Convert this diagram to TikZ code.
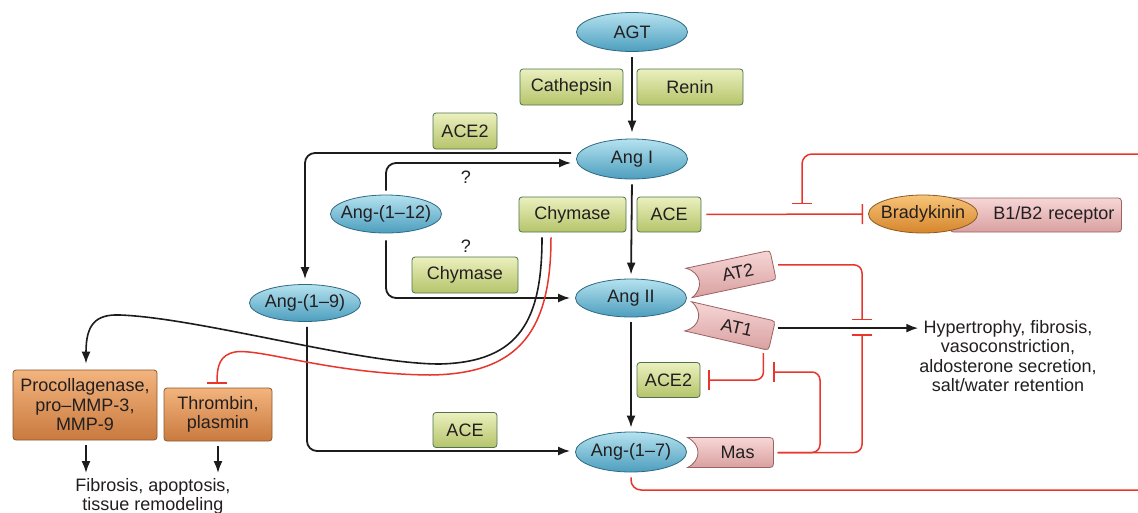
\documentclass[tikz,border=0pt]{standalone}
\usepackage{fontspec}
\setmainfont{Liberation Sans}
\usetikzlibrary{shapes.geometric,arrows.meta,calc}
\definecolor{txt}{HTML}{231F20}
\definecolor{ellT}{HTML}{B5E2EF}
\definecolor{ellB}{HTML}{4C9EBE}
\definecolor{ellD}{HTML}{2E6A82}
\definecolor{gT}{HTML}{EBF0BE}
\definecolor{gB}{HTML}{B5C46A}
\definecolor{gD}{HTML}{4F7250}
\definecolor{oT}{HTML}{F3B47E}
\definecolor{oB}{HTML}{C97A3E}
\definecolor{oD}{HTML}{8A5A30}
\definecolor{pT}{HTML}{F7D6D6}
\definecolor{pB}{HTML}{D9A0A0}
\definecolor{pD}{HTML}{9A6262}
\definecolor{bT}{HTML}{F7C478}
\definecolor{bB}{HTML}{D6852C}
\definecolor{bD}{HTML}{8A5A20}
\definecolor{redc}{HTML}{E8362C}
\definecolor{linec}{HTML}{1C1C1C}
\newcommand{\ctext}[1]{\makebox[0pt][c]{#1}}
\tikzset{
  ell/.style={ellipse, draw=ellD, line width=0.8pt, top color=ellT, bottom color=ellB,
    minimum width=111pt, minimum height=39pt, inner sep=0pt},
  bell/.style={ellipse, draw=bD, line width=0.8pt, top color=bT, bottom color=bB,
    minimum width=109pt, minimum height=38pt, inner sep=0pt},
  gbox/.style={rectangle, rounded corners=3pt, draw=gD, line width=0.8pt, top color=gT,
    bottom color=gB, minimum height=36pt, inner sep=0pt},
  obox/.style={rectangle, rounded corners=3pt, draw=oD, line width=0.8pt, top color=oT,
    bottom color=oB, inner sep=0pt, align=center},
  pbox/.style={rectangle, rounded corners=3pt, draw=pD, line width=0.8pt, top color=pT,
    bottom color=pB},
  recep/.style={draw=pD, line width=0.8pt, top color=pT, bottom color=pB},
  arr/.style={draw=linec, line width=1.8pt, -{Latex[length=12pt,width=9pt]}},
  inh/.style={draw=redc, line width=1.5pt, -{Bar[width=20pt,line width=1.5pt]}},
  rline/.style={draw=redc, line width=1.5pt},
  curv/.style={line width=1.6pt},
  receptor/.pic={
    \path[recep] (-43,-15) -- (39,-15) .. controls (42,-15) and (43,-14) .. (43,-11)
      -- (43,11) .. controls (43,14) and (42,15) .. (39,15) -- (-43,15)
      .. controls (-29,8) and (-29,-8) .. (-43,-15) -- cycle;
    \node[transform shape, inner sep=0pt] (-t) at (7,0) {#1};
    \coordinate (-e) at (44,0);
    \coordinate (-eu) at (44,-8);
    \coordinate (-b) at (38,16);
  }
}
\begin{document}
\begin{tikzpicture}[x=1pt,y=-1pt, every node/.append style={font=\fontsize{18}{19.5}\selectfont, text=txt}]
\useasboundingbox[fill=white] (0,0) rectangle (1138,512);

% nodes
\node[ell] (agt) at (632,32) {\ctext{AGT}};
\node[gbox, minimum width=103pt] (cath) at (571.5,87) {Cathepsin};
\node[gbox, minimum width=106pt] (renin) at (690,87) {Renin};
\node[ell, minimum height=40pt] (angI) at (632,159) {\ctext{Ang I}};
\node[gbox, minimum width=64pt] (ace2a) at (465,131) {ACE2};
\node[ell, minimum height=38pt] (ang12) at (386,214) {\ctext{Ang-(1–12)}};
\node[gbox, minimum width=107pt, minimum height=35pt] (chyma) at (572.5,214.5) {Chymase};
\node[gbox, minimum width=64pt, minimum height=35pt] (acea) at (669,214.5) {ACE};
\node[gbox, minimum width=106pt] (chymb) at (465,275) {Chymase};
\node[ell, minimum height=38pt] (angII) at (631,298) {\ctext{Ang II}};
\node[ell, minimum height=37pt] (ang19) at (305,303) {\ctext{Ang-(1–9)}};
\node[gbox, minimum width=63pt, minimum height=35pt] (ace2b) at (668.5,380) {ACE2};
\node[ell, minimum height=40pt] (ang17) at (631,452) {\ctext{Ang-(1–7)}};
\node[gbox, minimum width=64pt, minimum height=35pt] (acec) at (465,430) {ACE};
\node[obox, minimum width=144pt, minimum height=70pt] (procoll) at (85,405) {Procollagenase,\\pro–MMP-3,\\MMP-9};
\node[obox, minimum width=108pt, minimum height=53pt] (thromb) at (218,414.5) {Thrombin,\\plasmin};
\node[inner sep=0pt, anchor=north, align=center] (fib) at (153,478) {Fibrosis, apoptosis,\\tissue remodeling};
\node[inner sep=0pt, anchor=north, align=center] (hyp) at (1008,320) {Hypertrophy, fibrosis,\\vasoconstriction,\\aldosterone secretion,\\salt/water retention};
\node[inner sep=0pt] (q1) at (466,177) {?};
\node[inner sep=0pt] (q2) at (466,246) {?};
\node[pbox, anchor=west, minimum width=171pt, minimum height=34pt, inner xsep=7pt, inner ysep=0pt,
  text width=157pt, align=right] (b1b2) at (950,215) {B1/B2 receptor};
\node[bell] (brady) at (923,214) {\ctext{Bradykinin}};

\pic (mas) at (730.5,452.5) {receptor=Mas};
\pic[rotate=12] (at2) at (731,274) {receptor=AT2};
\pic[rotate=-13] (at1) at (730,326) {receptor=AT1};

% helper coordinates
\coordinate (barU) at (862,320);
\coordinate (barD) at (862,334);
\coordinate (barM) at (773,372);
\coordinate (barB) at (802,204);
\coordinate (edgeT) at (1138,154);
\coordinate (edgeB) at (1138,490);
\coordinate (pcs) at ($(procoll.south)+(1,0)$);
\coordinate (pcn) at ($(procoll.north)+(1,-6)$);
\coordinate (thn) at ($(thromb.north)+(-1,-4)$);
\coordinate (chb) at ($(chyma.south)+(-30.5,5)$);
\coordinate (chr) at ($(chyma.south)+(-21.5,5)$);

% black main cascade
\draw[arr, shorten <=5pt, shorten >=6pt] (agt.south) -- (angI.north);
\draw[arr, shorten <=5pt, shorten >=4pt] (angI.south) -- (angII.north);
\draw[arr, shorten <=5pt, shorten >=4pt] (angII.south) -- (ang17.north);

\draw[arr, rounded corners=10pt, shorten >=5pt] ($(angI.west)+(-5,-6)$) -| (ang19.north);
\draw[arr, rounded corners=10pt, shorten <=4pt] (ang12.north) |- ($(angI.west)+(-5,4)$);
\draw[arr, rounded corners=10pt, shorten <=7pt] (ang12.south) |- ($(angII.west)+(-5,0)$);
\draw[arr, rounded corners=10pt, shorten <=5pt] ($(ang19.south)+(2,0)$) |- ($(ang17.west)+(-5,-1)$);

% chymase curves
\draw[arr, curv] (chb) .. controls (542,320) and (520,362) .. (440,364)
  .. controls (360,364) and (200,318) .. (120,315)
  .. controls (95,314) and (86,325) .. (pcn);
\draw[inh] (chr) .. controls (551,330) and (520,374) .. (430,375)
  .. controls (330,374) and (260,348) .. (235,352)
  .. controls (220,355) and (217,365) .. (thn);

% bottom-left outputs
\draw[arr, shorten <=5pt, shorten >=5pt] (pcs) -- (pcs |- fib.north);
\draw[arr, shorten <=5pt, shorten >=5pt] (thromb.south) -- (thromb.south |- fib.north);

% receptors and red inhibitions
\draw[inh, rounded corners=8pt, shorten <=4pt] (at2-e) -| (barU);
\draw[arr, shorten <=3pt, shorten >=1pt] (at1-eu) -- (at1-eu -| hyp.west);
\draw[inh, rounded corners=8pt, shorten <=3pt] (mas-e) -| (barD);
\draw[inh, rounded corners=8pt, shorten <=3pt] (mas-e) -- ++(45.5,0) |- (barM);
\draw[inh, rounded corners=8pt, shorten <=3pt, shorten >=8pt] (at1-b) |- (ace2b.east);
\draw[inh, shorten <=5pt, shorten >=5pt] (acea.east) -- (brady.west);
\draw[inh, rounded corners=10pt] (edgeT) -| (barB);
\draw[rline, rounded corners=10pt, shorten <=5pt] (ang17.south) |- (edgeB);
\end{tikzpicture}
\end{document}
